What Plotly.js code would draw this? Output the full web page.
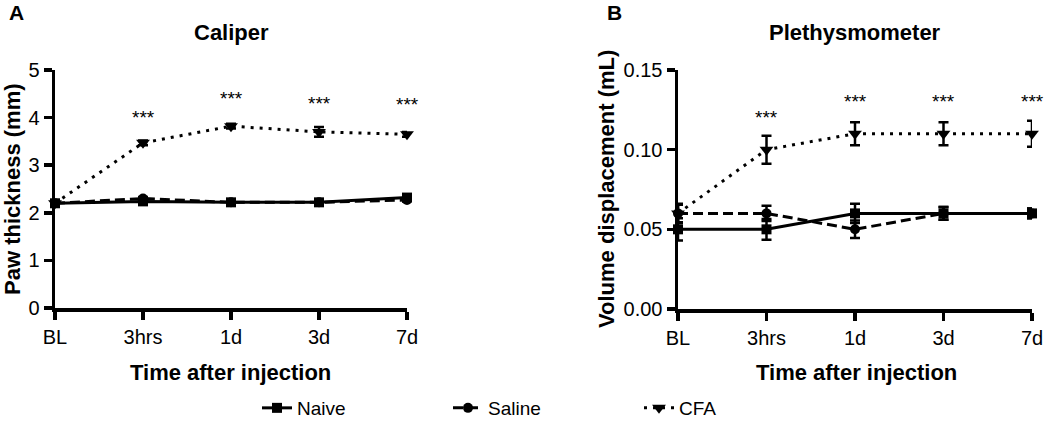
<!DOCTYPE html>
<html>
<head>
<meta charset="utf-8">
<script src="https://cdn.plot.ly/plotly-3.0.1.min.js"></script>
<style>html,body{margin:0;padding:0;background:#fff;}#chart{width:1050px;height:422px;}</style>
</head>
<body>
<div id="chart"></div>
<script>
// Categories
const timepoints = ["BL", "3hrs", "1d", "3d", "7d"];
const xIdx = [0, 1, 2, 3, 4];

// Panel A: Caliper (paw thickness, mm)
const caliperNaive = [2.2, 2.24, 2.22, 2.22, 2.32];
const caliperNaiveErr = [0.03, 0.03, 0.03, 0.03, 0.04];
const caliperSaline = [2.2, 2.3, 2.22, 2.22, 2.27];
const caliperSalineErr = [0.03, 0.03, 0.03, 0.03, 0.03];
const caliperCFA = [2.2, 3.47, 3.82, 3.7, 3.65];
const caliperCFAErr = [0.03, 0.05, 0.05, 0.1, 0.05];
const caliperStars = [null, 4.0, 4.4, 4.3, 4.28];

// Panel B: Plethysmometer (volume displacement, mL)
const plethNaive = [0.05, 0.05, 0.06, 0.06, 0.06];
const plethNaiveErr = [0.007, 0.0065, 0.006, 0.004, 0.003];
const plethSaline = [0.06, 0.06, 0.05, 0.06, 0.06];
const plethSalineErr = [0.0055, 0.0048, 0.0055, 0.004, 0.003];
const plethCFA = [0.06, 0.10, 0.11, 0.11, 0.11];
const plethCFAErr = [0.006, 0.0088, 0.0072, 0.0072, 0.0082];
const plethStars = [null, 0.1205, 0.130, 0.130, 0.130];

const seriesNames = ["Naive", "Saline", "CFA"];
const starLabel = "***";

const black = "#000000";
const FAM = "Liberation Sans, Arial, sans-serif";
const errStyle = (arr) => ({type: "data", array: arr, visible: true, color: black, thickness: 2.5, width: 5});

function makeTraces(naive, naiveErr, saline, salineErr, cfa, cfaErr, xa, ya, showLegend) {
  return [
    {x: xIdx, y: naive, error_y: errStyle(naiveErr), xaxis: xa, yaxis: ya, name: seriesNames[0],
     type: "scatter", mode: "lines+markers", cliponaxis: false, showlegend: showLegend, legendrank: 1,
     line: {color: black, width: 3}, marker: {symbol: "square", size: 10, color: black}},
    {x: xIdx, y: saline, error_y: errStyle(salineErr), xaxis: xa, yaxis: ya, name: seriesNames[1],
     type: "scatter", mode: "lines+markers", cliponaxis: false, showlegend: showLegend, legendrank: 2,
     line: {color: black, width: 3, dash: "10px,5px"}, marker: {symbol: "circle", size: 10, color: black}},
    {x: xIdx, y: cfa, error_y: errStyle(cfaErr), xaxis: xa, yaxis: ya, name: seriesNames[2],
     type: "scatter", mode: "lines+markers", cliponaxis: false, showlegend: showLegend, legendrank: 3,
     line: {color: black, width: 3, dash: "3px,6px"}, marker: {symbol: "triangle-down", size: 12, color: black}}
  ];
}

const data = [
  ...makeTraces(caliperNaive, caliperNaiveErr, caliperSaline, caliperSalineErr, caliperCFA, caliperCFAErr, "x", "y", true),
  ...makeTraces(plethNaive, plethNaiveErr, plethSaline, plethSalineErr, plethCFA, plethCFAErr, "x2", "y2", false)
];

const tickFont = {family: FAM, size: 20, color: black};
const titleFont = {family: FAM, size: 22, color: black, weight: "bold"};

function xAxis(domain, anchor) {
  return {domain: domain, anchor: anchor, range: [0, 4], tickvals: xIdx, ticktext: timepoints,
    showline: true, linewidth: 3.5, linecolor: black, ticks: "outside", ticklen: 8, tickwidth: 3.5, tickcolor: black,
    showgrid: false, zeroline: false, tickfont: tickFont, fixedrange: true, automargin: false};
}
function yAxis(domain, anchor, range, dtick, fmt) {
  return {domain: domain, anchor: anchor, range: range, dtick: dtick, tick0: 0, tickformat: fmt,
    showline: true, linewidth: 3.5, linecolor: black, ticks: "outside", ticklen: 8, tickwidth: 3.5, tickcolor: black,
    showgrid: false, zeroline: false, tickfont: tickFont, fixedrange: true, automargin: false};
}

const starFont = {family: FAM, size: 19, color: black};
const annotations = [];
xIdx.forEach((i) => {
  if (caliperStars[i] !== null) annotations.push({xref: "x", yref: "y", x: i, y: caliperStars[i], text: starLabel,
    showarrow: false, font: starFont});
  if (plethStars[i] !== null) annotations.push({xref: "x2", yref: "y2", x: i, y: plethStars[i], text: starLabel,
    showarrow: false, font: starFont});
});
const paperText = (x, y, text, font, angle) => ({xref: "paper", yref: "paper", x: x / 1050, y: 1 - y / 422,
  xanchor: "center", yanchor: "middle", text: text, showarrow: false, font: font, textangle: angle || 0});
const letterFont = {family: FAM, size: 21, color: black, weight: "bold"};
annotations.push({xref: "paper", yref: "paper", x: 16 / 1050, y: 1, xanchor: "center", yanchor: "top",
  text: "A", showarrow: false, font: letterFont, borderpad: 0});
annotations.push({xref: "paper", yref: "paper", x: 614 / 1050, y: 1, xanchor: "center", yanchor: "top",
  text: "B", showarrow: false, font: letterFont, borderpad: 0});
annotations.push(paperText(231, 33, "Caliper", titleFont));
annotations.push(paperText(855, 33, "Plethysmometer", titleFont));
annotations.push(paperText(230, 372, "Time after injection", titleFont));
annotations.push(paperText(856, 372, "Time after injection", titleFont));
annotations.push(paperText(12, 189, "Paw thickness (mm)", titleFont, -90));
annotations.push(paperText(606, 189, "Volume displacement (mL)", titleFont, -90));

const layout = {
  width: 1050, height: 422,
  margin: {l: 0, r: 0, t: 0, b: 0, autoexpand: false},
  paper_bgcolor: "#fff", plot_bgcolor: "#fff",
  font: {family: FAM, color: black},
  xaxis: xAxis([55 / 1050, 407 / 1050], "y"),
  yaxis: yAxis([(422 - 308) / 422, (422 - 70) / 422], "x", [0, 5], 1, ""),
  xaxis2: xAxis([678 / 1050, 1032 / 1050], "y2"),
  yaxis2: yAxis([(422 - 309) / 422, (422 - 70) / 422], "x2", [0, 0.15], 0.05, ".2f"),
  showlegend: true,
  legend: {orientation: "h", x: 257 / 1050, xanchor: "left",
    y: 14 / 422, yanchor: "middle",
    entrywidth: 146, entrywidthmode: "pixels", font: {family: FAM, size: 19, color: black},
    bgcolor: "rgba(0,0,0,0)", traceorder: "normal"},
  annotations: annotations
};

Plotly.newPlot("chart", data, layout, {displayModeBar: false, staticPlot: true});
</script>
</body>
</html>
